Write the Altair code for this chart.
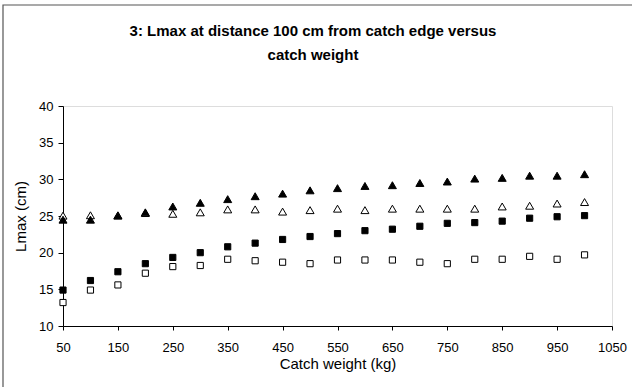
import altair as alt
import pandas as pd

weights = [50, 100, 150, 200, 250, 300, 350, 400, 450, 500,
           550, 600, 650, 700, 750, 800, 850, 900, 950, 1000]

open_squares = [13.2, 14.9, 15.6, 17.2, 18.1, 18.25, 19.1, 18.9, 18.7, 18.5,
                19.0, 19.0, 19.0, 18.7, 18.5, 19.1, 19.1, 19.5, 19.1, 19.7]
filled_squares = [14.9, 16.2, 17.4, 18.5, 19.35, 20.0, 20.8, 21.3, 21.8, 22.2,
                  22.6, 23.0, 23.2, 23.6, 24.0, 24.1, 24.3, 24.7, 24.9, 25.05]
open_triangles = [25.05, 25.1, 25.1, 25.4, 25.3, 25.5, 25.9, 25.9, 25.6, 25.8,
                  26.0, 25.8, 26.0, 26.0, 26.0, 26.0, 26.3, 26.4, 26.7, 26.9]
filled_triangles = [24.5, 24.5, 25.05, 25.5, 26.3, 26.8, 27.3, 27.7, 28.05, 28.5,
                    28.8, 29.1, 29.2, 29.5, 29.7, 30.1, 30.2, 30.5, 30.5, 30.7]

series_names = ["open_sq", "filled_sq", "open_tri", "filled_tri"]
series_values = [open_squares, filled_squares, open_triangles, filled_triangles]

x_ticks = [50, 150, 250, 350, 450, 550, 650, 750, 850, 950, 1050]
y_ticks = [10, 15, 20, 25, 30, 35, 40]

title_lines = ["3: Lmax at distance 100 cm from catch edge versus", "catch weight"]

rows = []
for name, vals in zip(series_names, series_values):
    for w, v in zip(weights, vals):
        rows.append({"weight": w, "lmax": v, "series": name})
df = pd.DataFrame(rows)

FONT = "Liberation Sans"

common_axis = dict(grid=False, domainColor="black", tickColor="black",
                   labelColor="black", titleColor="black",
                   labelFont=FONT, titleFont=FONT, labelFontSize=13,
                   titleFontSize=15, titleFontWeight="normal",
                   domainWidth=1, tickWidth=1)

x_enc = alt.X("weight:Q",
              scale=alt.Scale(domain=[50, 1050], nice=False, zero=False),
              axis=alt.Axis(values=x_ticks, title="Catch weight (kg)", format="d",
                            labelFlush=False, tickSize=4,
                            labelPadding=11, titleY=42,
                            titleBaseline="alphabetic", **common_axis))
y_enc = alt.Y("lmax:Q",
              scale=alt.Scale(domain=[10, 40], nice=False, zero=False),
              axis=alt.Axis(values=y_ticks, title="Lmax (cm)",
                            tickSize=5, labelPadding=5,
                            titleX=-38, titleY=110, titleAngle=-90,
                            titleAlign="center", titleBaseline="alphabetic",
                            **common_axis))

def layer(name, shape, fill, size):
    return alt.Chart(df[df.series == name]).mark_point(
        shape=shape, filled=True, fill=fill, stroke="black",
        strokeWidth=1, size=size, opacity=1
    ).encode(x=x_enc, y=y_enc)

points = alt.layer(
    layer("open_sq", "square", "white", 38),
    layer("filled_sq", "square", "black", 38),
    layer("open_tri", "triangle-up", "white", 64),
    layer("filled_tri", "triangle-up", "black", 64),
)

one = pd.DataFrame({"a": [0]})

border = alt.Chart(one).mark_rect(
    fill=None, stroke="#555555", strokeWidth=1.2
).encode(x=alt.value(-60), x2=alt.value(700), y=alt.value(-101), y2=alt.value(400))

title = alt.Chart(one).mark_text(
    text=title_lines, font=FONT, fontSize=15, fontWeight="bold",
    align="center", baseline="alphabetic", lineHeight=24, color="black"
).encode(x=alt.value(250), y=alt.value(-70))

chart = alt.layer(border, title, points).properties(
    width=549, height=220,
    autosize=alt.AutoSizeParams(type="none"),
    padding={"left": 63, "top": 106, "right": 20, "bottom": 61},
).configure_view(stroke=None).configure(background="white")

chart.save("out.html", embed_options={"renderer": "svg", "actions": False})
